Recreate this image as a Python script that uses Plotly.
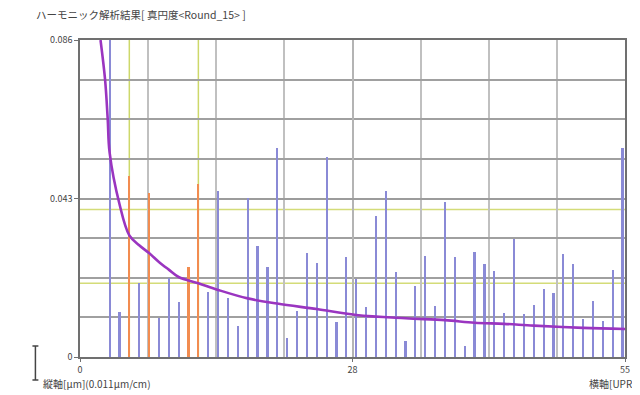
import plotly.graph_objects as go

# ---------------- data ----------------
harmonics = list(range(3, 56))
amplitudes = [0.095, 0.0123, 0.049, 0.0201, 0.0444, 0.0107, 0.0215, 0.0150, 0.0243, 0.047,
              0.0177, 0.0451, 0.0159, 0.0085, 0.0431, 0.0302, 0.0243, 0.0566, 0.0052, 0.0126,
              0.0281, 0.0254, 0.0543, 0.0096, 0.0270, 0.0211, 0.0136, 0.0383, 0.0451, 0.0231,
              0.0044, 0.0193, 0.0274, 0.0138, 0.0420, 0.0271, 0.0030, 0.0286, 0.0252, 0.0234,
              0.0119, 0.0319, 0.0117, 0.0141, 0.0184, 0.0173, 0.0279, 0.0252, 0.0102, 0.0153,
              0.0098, 0.0236, 0.0566]
flagged_harmonics = [5, 7, 11, 12]

curve_h = [2.08, 2.54, 2.81, 3, 4, 5, 6, 7, 8, 9, 10, 12, 14, 17, 20, 24, 28, 33, 37, 40, 43, 46, 51, 55.25]
curve_v = [0.086, 0.0753, 0.0645, 0.0555, 0.0415, 0.0330, 0.0303, 0.0282, 0.0258, 0.0237, 0.0217,
           0.0200, 0.0182, 0.0159, 0.0145, 0.0130, 0.0114, 0.0105, 0.0100, 0.0093, 0.0090,
           0.0085, 0.0079, 0.0076]

marker_harmonics = [5, 12]
threshold_levels = [0.02, 0.04]

y_tick_vals = [0, 0.043, 0.086]
y_tick_text = ["0", "0.043", "0.086"]
x_tick_text = ["0", "28", "55"]

title_text = "ハーモニック解析結果[ 真円度&lt;Round_15&gt; ]"
y_unit_text = "縦軸[μm](0.011μm/cm)"
x_unit_text = "横軸[UPR]"

# ---------------- figure ----------------
X_MAX = 55.25
Y_MAX = 0.086
PAGE_OFF = 8            # browser body margin
W, H = 640 - PAGE_OFF, 395 - PAGE_OFF
L, T = 80 - PAGE_OFF, 40 - PAGE_OFF
PW, PH = 550, 317
R = W - L - PW
B = H - T - PH


def px(x):   # page pixel -> paper x
    return (x - 80) / PW


def py(y):   # page pixel -> paper y
    return (357 - y) / PH


FONT = "Noto Sans CJK JP, Noto Sans, sans-serif"

bar_colors = ["#f28c50" if h in flagged_harmonics else "#8a8ad6" for h in harmonics]

fig = go.Figure()
fig.add_trace(go.Bar(x=harmonics, y=amplitudes, width=0.22,
                     marker=dict(color=bar_colors, line=dict(width=0)),
                     hoverinfo="x+y"))
fig.add_trace(go.Scatter(x=curve_h, y=curve_v, mode="lines",
                         line=dict(color="#9a35c0", width=2.6, shape="spline", smoothing=1.0),
                         hoverinfo="skip"))

shapes = []
for h in marker_harmonics:
    shapes.append(dict(type="line", xref="x", yref="paper", x0=h, x1=h, y0=0, y1=1,
                       line=dict(color="#cdd86a", width=1.5), layer="between"))
for lv in threshold_levels:
    shapes.append(dict(type="line", xref="paper", yref="y", x0=0, x1=1, y0=lv, y1=lv,
                       line=dict(color="#d4dc78", width=1.5), layer="between"))
# scale bar "I" at lower left
shapes.append(dict(type="line", xref="paper", yref="paper", x0=px(35), x1=px(35),
                   y0=py(346), y1=py(380), line=dict(color="#444", width=1.5)))
for yy in (346, 380):
    shapes.append(dict(type="line", xref="paper", yref="paper", x0=px(32), x1=px(38),
                       y0=py(yy), y1=py(yy), line=dict(color="#444", width=1.5)))

annotations = [
    dict(text=title_text, xref="paper", yref="paper", x=px(34), y=py(14),
         xanchor="left", yanchor="middle", showarrow=False,
         font=dict(size=10.5, color="#444", family=FONT)),
    dict(text=y_unit_text, xref="paper", yref="paper", x=px(41), y=py(383),
         xanchor="left", yanchor="middle", showarrow=False,
         font=dict(size=10, color="#444", family=FONT)),
    dict(text=x_unit_text, xref="paper", yref="paper", x=px(592), y=py(383),
         xanchor="left", yanchor="middle", showarrow=False,
         font=dict(size=10, color="#444", family=FONT)),
]

fig.update_layout(
    width=W, height=H,
    margin=dict(l=L, r=R, t=T, b=B, pad=0),
    paper_bgcolor="white", plot_bgcolor="white",
    showlegend=False, bargap=0,
    shapes=shapes, annotations=annotations,
    font=dict(family=FONT, size=9, color="#444"),
)
fig.update_xaxes(
    range=[0, X_MAX], showline=True, linecolor="#707070", linewidth=1.5, mirror=True,
    tickvals=[0, X_MAX / 2, X_MAX], ticktext=x_tick_text, ticks="outside", ticklen=3,
    tickcolor="#707070", showgrid=True, gridcolor="#b4b4b4", gridwidth=1.5, zeroline=False,
    minor=dict(tick0=0, dtick=X_MAX / 8, showgrid=True, gridcolor="#c0c0c0", gridwidth=1.5),
    tickfont=dict(size=9, color="#444"), fixedrange=True,
)
fig.update_yaxes(
    range=[0, Y_MAX], showline=True, linecolor="#707070", linewidth=1.5, mirror=True,
    tickvals=y_tick_vals, ticktext=y_tick_text, ticks="outside", ticklen=4,
    tickcolor="#707070", showgrid=True, gridcolor="#9c9c9c", gridwidth=1.5, zeroline=False,
    minor=dict(tick0=0, dtick=Y_MAX / 8, showgrid=True, gridcolor="#a0a0a0", gridwidth=1.5),
    tickfont=dict(size=9, color="#444"), fixedrange=True,
)

fig.write_html("out.html")
